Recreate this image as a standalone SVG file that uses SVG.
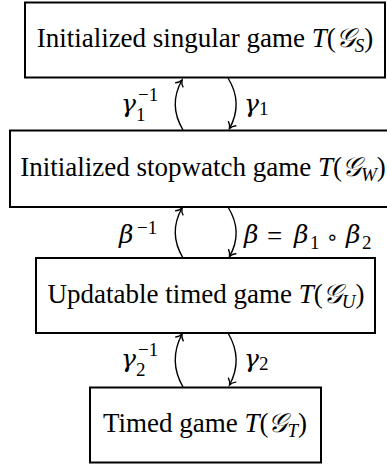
<svg xmlns="http://www.w3.org/2000/svg" width="387" height="465" viewBox="0 0 387 465">
<style>
.box{fill:#fff;stroke:#000;stroke-width:2}
.t{font-family:"Liberation Serif","Times New Roman",serif;font-size:27px;fill:#000}
.m{font-style:italic}
.cal{font-family:"DejaVu Serif","Liberation Serif",serif;font-style:italic}
.sub{font-size:19px;font-style:italic}
.g{font-family:"DejaVu Serif",serif;font-style:italic;font-size:25px;fill:#000}
.s{font-family:"Liberation Serif",serif;font-size:19px;fill:#000}
.r{font-family:"Liberation Serif",serif;font-size:27px;fill:#000}
.arr{fill:none;stroke:#000;stroke-width:1.4;marker-end:url(#to)}
</style>
<defs>
<marker id="to" markerUnits="userSpaceOnUse" markerWidth="14" markerHeight="14" refX="0" refY="0" viewBox="-7 -7 14 14" orient="auto" overflow="visible">
<path d="M-5.5,-4.2 C-3.8,-1.6 -1.2,-0.4 0,0 C-1.2,0.4 -3.8,1.6 -5.5,4.2" fill="none" stroke="#000" stroke-width="1.4" stroke-linecap="round"/>
</marker>
</defs>

<g id="node-singular">
<rect class="box" x="25" y="2.5" width="360" height="75"/>
<text class="t" x="205" y="47" text-anchor="middle">Initialized singular game <tspan class="m">T</tspan>(<tspan class="cal">𝒢</tspan><tspan class="sub" dy="5">S</tspan><tspan dy="-5">)</tspan></text>
</g>
<g id="node-stopwatch">
<rect class="box" x="10" y="130.5" width="386" height="76.5"/>
<text class="t" x="203" y="176" text-anchor="middle">Initialized stopwatch game <tspan class="m">T</tspan>(<tspan class="cal">𝒢</tspan><tspan class="sub" dy="5">W</tspan><tspan dy="-5">)</tspan></text>
</g>
<g id="node-updatable">
<rect class="box" x="36" y="258" width="339" height="75"/>
<text class="t" x="206" y="303" text-anchor="middle">Updatable timed game <tspan class="m">T</tspan>(<tspan class="cal">𝒢</tspan><tspan class="sub" dy="5">U</tspan><tspan dy="-5">)</tspan></text>
</g>
<g id="node-timed">
<rect class="box" x="90" y="387.5" width="231" height="75"/>
<text class="t" x="205" y="432" text-anchor="middle">Timed game <tspan class="m">T</tspan>(<tspan class="cal">𝒢</tspan><tspan class="sub" dy="5">T</tspan><tspan dy="-5">)</tspan></text>
</g>

<g id="connectors">
<path class="arr" d="M183,130 Q168,105 182,80"/>
<path class="arr" d="M228,78 Q243.5,103 229.5,128.5"/>
<path class="arr" d="M183,258 Q168,233 182,208"/>
<path class="arr" d="M228,207 Q243.5,232 229.5,256.5"/>
<path class="arr" d="M183,387 Q168,361 182,334"/>
<path class="arr" d="M228,333 Q243.5,359 229.5,385"/>
</g>

<g id="labels">
<text class="g" x="121" y="112">γ</text>
<text class="s" x="136" y="121">1</text>
<text class="s" x="138" y="101">−1</text>
<text class="g" x="244" y="112">γ</text>
<text class="s" x="259" y="115">1</text>

<text class="g" x="119" y="243">β</text>
<text class="s" x="137" y="234">−1</text>
<text class="g" x="244" y="243">β</text>
<text class="r" x="267" y="245">=</text>
<text class="g" x="294" y="243">β</text>
<text class="s" x="310" y="249">1</text>
<text x="326" y="244" style="font-family:'DejaVu Sans',sans-serif;font-size:20px">∘</text>
<text class="g" x="346" y="243">β</text>
<text class="s" x="362" y="249">2</text>

<text class="g" x="121" y="367">γ</text>
<text class="s" x="136" y="376">2</text>
<text class="s" x="138" y="356">−1</text>
<text class="g" x="244" y="367">γ</text>
<text class="s" x="259" y="370">2</text>
</g>
</svg>
